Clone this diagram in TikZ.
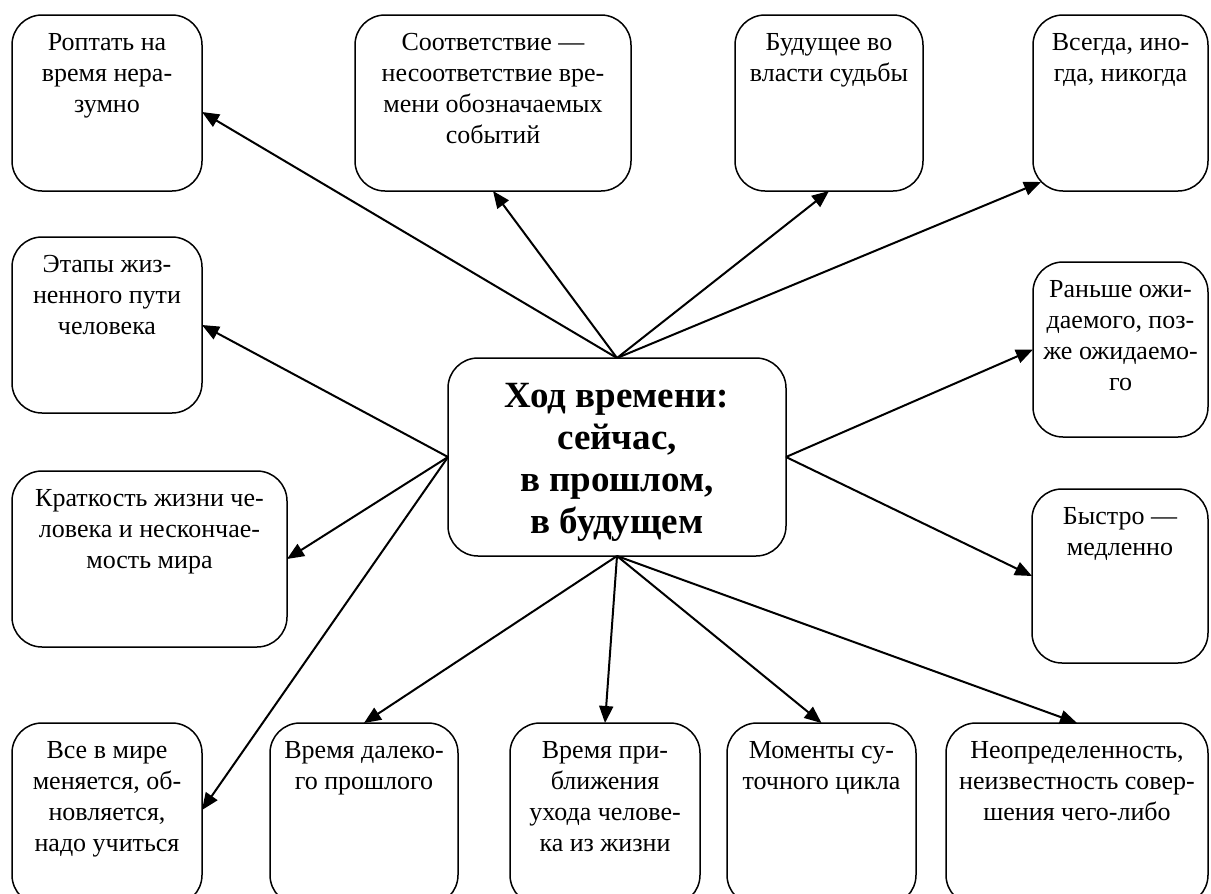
\documentclass[tikz,border=0pt]{standalone}
\usepackage{fontspec}
\setmainfont{Liberation Serif}
\usetikzlibrary{arrows.meta}
\newcommand{\bxt}[3]{\parbox[c][#2][t]{#1}{\centering\rule{0pt}{35.5pt}#3}}
\begin{document}
\begin{tikzpicture}[x=1pt,y=-1pt,
  every node/.style={font=\fontsize{26}{31}\selectfont},
  boxnode/.style={draw, line width=1.5pt, rounded corners=30pt, inner sep=0pt, outer sep=0pt, fill=white},
  conn/.style={line width=2pt, -{Triangle[length=17pt,width=14pt]}}]
\useasboundingbox (0,0) rectangle (1211,894);
\clip (0,0) rectangle (1211,894);
% top row
\node[boxnode] (b1) at (107,103) {\bxt{190pt}{176pt}{Роптать на\\время нера-\\зумно}};
\node[boxnode] (b2) at (493,103) {\bxt{276pt}{176pt}{Соответствие —\\несоответствие вре-\\мени обозначаемых\\событий}};
\node[boxnode] (b3) at (829,103) {\bxt{188pt}{176pt}{Будущее во\\власти судьбы}};
\node[boxnode] (b4) at (1120.5,103) {\bxt{175pt}{176pt}{Всегда, ино-\\гда, никогда}};
% left column
\node[boxnode] (b5) at (107,325) {\bxt{190pt}{176pt}{Этапы жиз-\\ненного пути\\человека}};
\node[boxnode] (b7) at (149.5,559) {\bxt{275pt}{176pt}{Краткость жизни че-\\ловека и нескончае-\\мость мира}};
% right column
\node[boxnode] (b6) at (1120.5,349.5) {\bxt{175pt}{175pt}{Раньше ожи-\\даемого, поз-\\же ожидаемо-\\го}};
\node[boxnode] (b8) at (1120,576) {\bxt{176pt}{174pt}{Быстро —\\медленно}};
% bottom row
\node[boxnode] (b9) at (107,814) {\bxt{190pt}{182pt}{Все в мире\\меняется, об-\\новляется,\\надо учиться}};
\node[boxnode] (b10) at (364,814) {\bxt{188pt}{182pt}{Время далеко-\\го прошлого}};
\node[boxnode] (b11) at (605,814) {\bxt{190pt}{182pt}{Время при-\\ближения\\ухода челове-\\ка из жизни}};
\node[boxnode] (b12) at (821.5,814) {\bxt{189pt}{182pt}{Моменты су-\\точного цикла}};
\node[boxnode] (b13) at (1077,814) {\bxt{262pt}{182pt}{Неопределенность,\\неизвестность совер-\\шения чего-либо}};
% centre
\node[boxnode] (c) at (617,457) {\parbox[c][198pt][t]{338pt}{\centering\fontsize{37}{42}\selectfont\bfseries\rule{0pt}{49pt}Ход времени:\\сейчас,\\в прошлом,\\в будущем}};
% connectors
\draw[conn] (c.north) -- ([yshift=-9pt]b1.east);
\draw[conn] (c.north) -- (b2.south);
\draw[conn] (c.north) -- (b3.south);
\draw[conn] (c.north) -- ([xshift=8pt,yshift=9pt]b4.south west);
\draw[conn] (c.west) -- (b5.east);
\draw[conn] (c.west) -- (b7.east);
\draw[conn] (c.west) -- ([yshift=4pt]b9.east);
\draw[conn] (c.east) -- (b6.west);
\draw[conn] (c.east) -- (b8.west);
\draw[conn] (c.south) -- (b10.north);
\draw[conn] (c.south) -- (b11.north);
\draw[conn] (c.south) -- (b12.north);
\draw[conn] (c.south) -- (b13.north);
\end{tikzpicture}
\end{document}
